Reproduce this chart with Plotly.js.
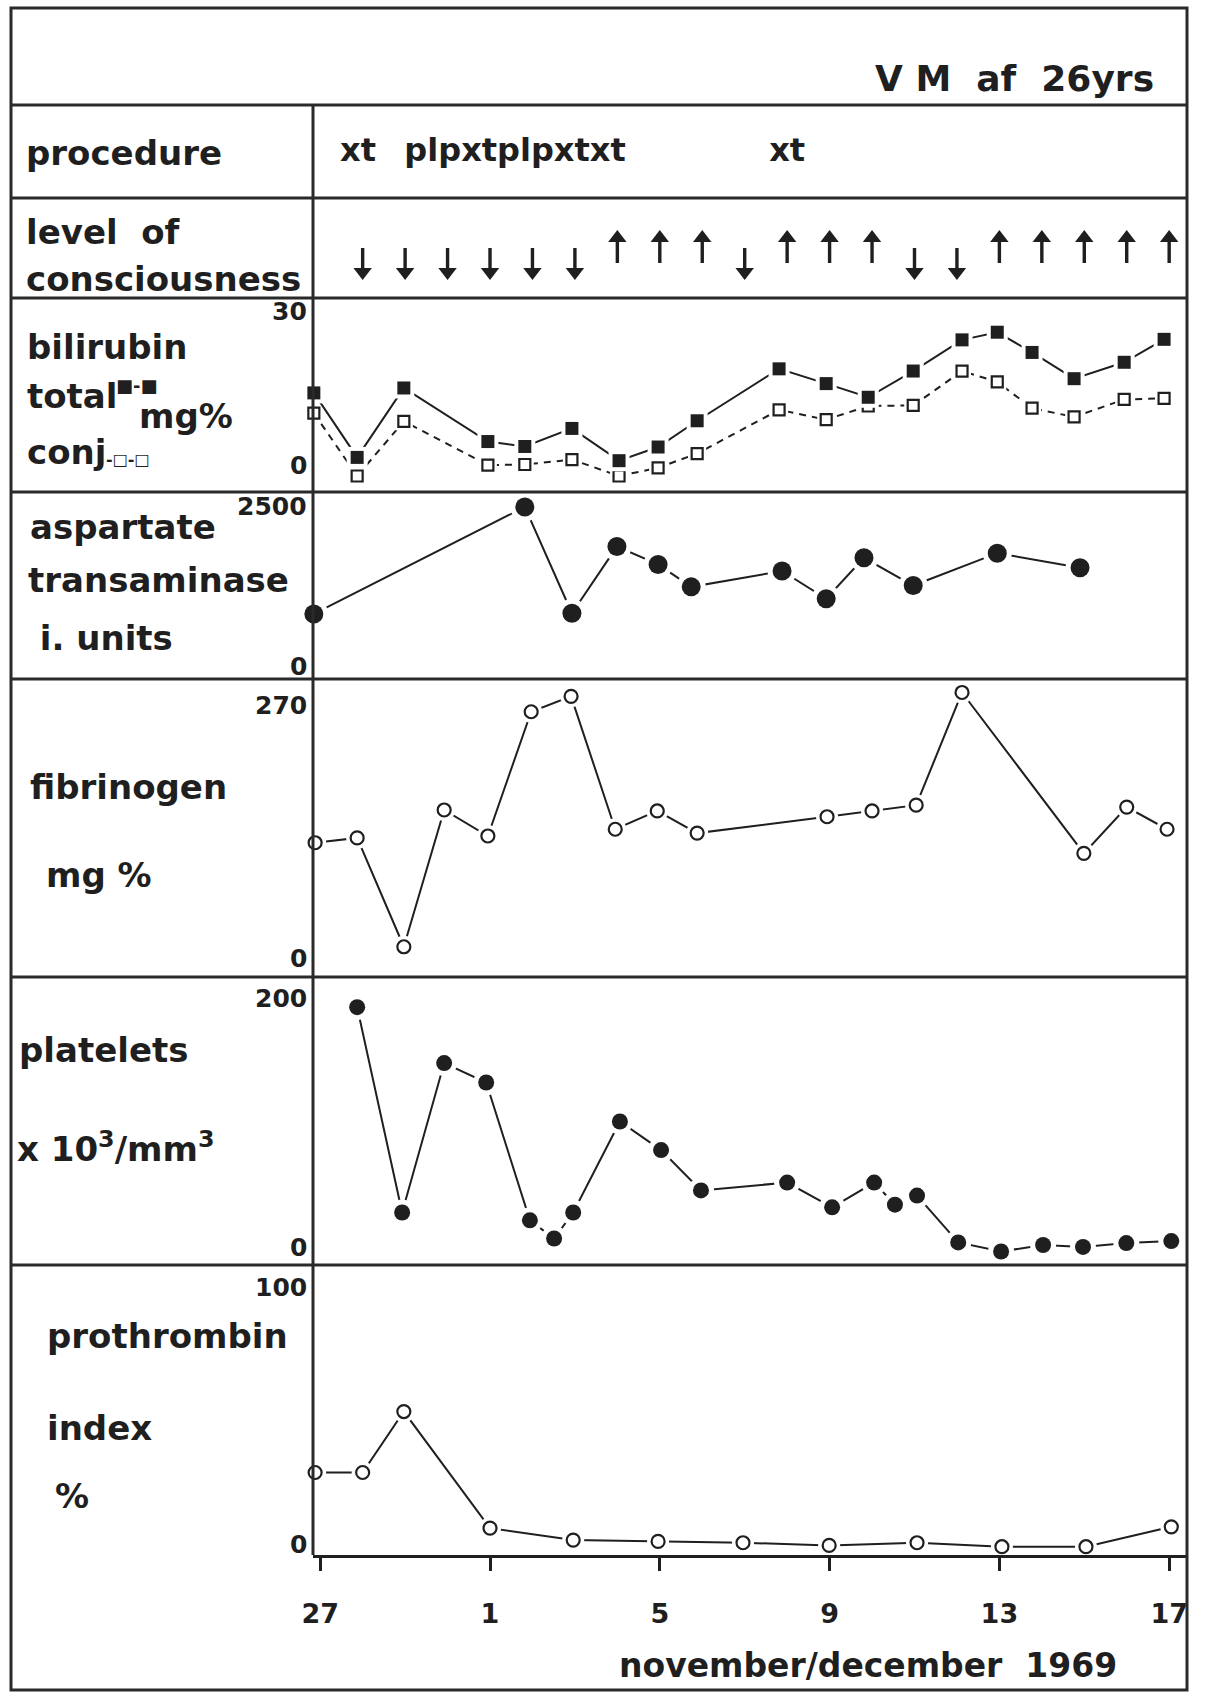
<!DOCTYPE html>
<html>
<head>
<meta charset="utf-8">
<script src="https://cdn.plot.ly/plotly-3.0.1.min.js"></script>
<style>
  html, body { margin: 0; padding: 0; background: #ffffff; }
  #chart { width: 1210px; height: 1695px; }
</style>
</head>
<body>
<div id="chart"></div>
<script>
// ---------------- DATA (x = days after 27 November 1969) ----------------
const xTickDays   = [0, 4, 8, 12, 16, 20];
const xTickLabels = ['27', '1', '5', '9', '13', '17'];

const procedureDays   = [0.89, 4.59, 11.0];
const procedureLabels = ['xt', 'plpxtplpxtxt', 'xt'];

const consciousnessDays = [1, 2, 3, 4, 5, 6, 7, 8, 9, 10, 11, 12, 13, 14, 15, 16, 17, 18, 19, 20];
const consciousnessDir  = ['down', 'down', 'down', 'down', 'down', 'down', 'up', 'up', 'up', 'down',
                           'up', 'up', 'up', 'down', 'down', 'up', 'up', 'up', 'up', 'up'];

const bilirubinDays  = [-0.15, 0.87, 1.97, 3.95, 4.82, 5.93, 7.04, 7.96, 8.88, 10.81, 11.92, 12.91, 13.97, 15.12, 15.95, 16.77, 17.76, 18.94, 19.88];
const bilirubinTotal = [15.2, 3.4, 16.1, 6.3, 5.4, 8.7, 2.8, 5.3, 10.1, 19.6, 16.9, 14.4, 19.2, 24.9, 26.3, 22.6, 17.8, 20.8, 25.0];
const bilirubinConj  = [11.5, 0.0, 10.0, 2.0, 2.1, 3.0, 0.0, 1.5, 4.1, 12.1, 10.3, 12.8, 12.9, 19.2, 17.2, 12.4, 10.8, 14.0, 14.2];
const bilirubinTicks = [0, 30];

const astDays   = [-0.15, 4.82, 5.93, 6.99, 7.96, 8.74, 10.88, 11.92, 12.81, 13.97, 15.95, 17.90];
const astValues = [880, 2500, 890, 1900, 1630, 1290, 1530, 1110, 1730, 1310, 1800, 1580];
const astTicks  = [0, 2500];

const fibrinogenDays   = [-0.12, 0.87, 1.97, 2.92, 3.95, 4.97, 5.91, 6.95, 7.94, 8.88, 11.94, 13.0, 14.04, 15.12, 17.99, 19.0, 19.95];
const fibrinogenValues = [128, 133, 20, 162, 135, 264, 280, 142, 161, 138, 155, 161, 167, 284, 117, 165, 142];
const fibrinogenTicks  = [0, 270];

const plateletDays   = [0.87, 1.93, 2.92, 3.91, 4.94, 5.51, 5.96, 7.06, 8.03, 8.97, 11.0, 12.06, 13.05, 13.54, 14.06, 15.03, 16.04, 17.03, 17.97, 18.99, 20.05];
const plateletValues = [193, 35, 150, 135, 29, 15, 35, 105, 83, 52, 58, 39, 58, 41, 48, 12, 5, 10, 8.5, 11.5, 13];
const plateletTicks  = [0, 200];

const prothrombinDays   = [-0.12, 1.0, 1.97, 4.0, 5.96, 7.96, 9.96, 11.99, 14.06, 16.06, 18.04, 20.05];
const prothrombinValues = [30, 30, 53, 9, 4.5, 4, 3.5, 2.5, 3.5, 2, 2, 9.5];
const prothrombinTicks  = [0, 100];

// ---------------- STYLE / LAYOUT ----------------
const W = 1210, H = 1695;
const INK = '#1f1f1f';
const FONT = 'DejaVu Sans, Liberation Sans, sans-serif';
const px = p => p / W;
const py = p => 1 - p / H;

// row boundaries (pixels from top)
const rowTop = [8, 105, 198, 298, 492, 679, 977, 1265, 1555, 1690];
const frameLeft = 11, frameRight = 1187, divider = 313;

function dom(top, bottom) { return [py(bottom), py(top)]; }

const traces = [];

function series(days, vals, yaxis, opt) {
  traces.push({
    x: days, y: vals, yaxis: yaxis, mode: 'lines', hoverinfo: 'skip',
    line: { color: INK, width: opt.lineWidth || 2, dash: opt.dash || 'solid' }
  });
  traces.push({
    x: days, y: vals, yaxis: yaxis, mode: 'markers', cliponaxis: false, hoverinfo: 'skip',
    marker: { symbol: opt.symbol, size: opt.size + opt.halo, color: '#ffffff', line: { width: 0 } }
  });
  traces.push({
    x: days, y: vals, yaxis: yaxis, mode: 'markers', cliponaxis: false,
    marker: opt.open
      ? { symbol: opt.symbol, size: opt.size, color: '#ffffff', line: { color: INK, width: 2.2 } }
      : { symbol: opt.symbol, size: opt.size, color: INK, line: { width: 0 } }
  });
}

// procedure row
traces.push({
  x: procedureDays, y: procedureDays.map(() => 0.48), yaxis: 'y', mode: 'text',
  text: procedureLabels, textposition: 'middle center', cliponaxis: false,
  textfont: { family: FONT, size: 32, weight: 700, color: INK }
});

// level of consciousness arrows: shafts + triangular heads
const shaftX = [], shaftY = [];
consciousnessDays.forEach((d, i) => {
  const up = consciousnessDir[i] === 'up';
  shaftX.push(d, d, null);
  shaftY.push(up ? 0.35 : 0.50, up ? 0.57 : 0.29, null);
});
traces.push({ x: shaftX, y: shaftY, yaxis: 'y2', mode: 'lines', hoverinfo: 'skip',
  line: { color: INK, width: 3.4 } });
traces.push({
  x: consciousnessDays, y: consciousnessDir.map(d => d === 'up' ? 0.60 : 0.26), yaxis: 'y2',
  mode: 'markers', cliponaxis: false,
  marker: { symbol: consciousnessDir.map(d => d === 'up' ? 'triangle-up' : 'triangle-down'),
            size: 16, color: INK, line: { width: 0 } }
});

series(bilirubinDays, bilirubinConj, 'y3', { symbol: 'square', size: 11, halo: 7, open: true, dash: '7px,6px' });
series(bilirubinDays, bilirubinTotal, 'y3', { symbol: 'square', size: 13, halo: 8, open: false });
series(astDays, astValues, 'y4', { symbol: 'circle', size: 19, halo: 10, open: false });
series(fibrinogenDays, fibrinogenValues, 'y5', { symbol: 'circle', size: 13, halo: 9, open: true });
series(plateletDays, plateletValues, 'y6', { symbol: 'circle', size: 16, halo: 10, open: false });
series(prothrombinDays, prothrombinValues, 'y7', { symbol: 'circle', size: 13, halo: 9, open: true });

function yax(top, bottom, range) {
  return { domain: dom(top, bottom), range: range, anchor: 'x', showticklabels: false,
           showgrid: false, zeroline: false, ticks: '', showline: false, fixedrange: true };
}

const layout = {
  width: W, height: H,
  margin: { l: 0, r: 0, t: 0, b: 0, pad: 0 },
  paper_bgcolor: '#ffffff', plot_bgcolor: 'rgba(0,0,0,0)',
  showlegend: false,
  font: { family: FONT, color: INK },
  xaxis: {
    domain: [px(divider), px(frameRight)], range: [-0.17, 20.42], anchor: 'y7',
    tickvals: xTickDays, ticktext: xTickLabels, ticks: 'outside', ticklen: 13, tickwidth: 3,
    tickcolor: INK, showline: true, linewidth: 3, linecolor: INK,
    tickfont: { family: FONT, size: 27, weight: 700, color: INK }, ticklabelstandoff: 20,
    showgrid: false, zeroline: false, fixedrange: true
  },
  yaxis:  yax(rowTop[1], rowTop[2], [0, 1]),
  yaxis2: yax(rowTop[2], rowTop[3], [0, 1]),
  yaxis3: yax(rowTop[3], rowTop[4], [-2.93, 32.56]),
  yaxis4: yax(rowTop[4], rowTop[5], [-106, 2727]),
  yaxis5: yax(rowTop[5], rowTop[6], [-11.4, 298]),
  yaxis6: yax(rowTop[6], rowTop[7], [-5.4, 216.2]),
  yaxis7: yax(rowTop[7], rowTop[8], [-1.13, 108.3]),
  shapes: [],
  annotations: []
};

// frame
const frameLine = { color: '#2a2a2a', width: 3 };
layout.shapes.push({ type: 'rect', xref: 'paper', yref: 'paper', x0: px(frameLeft), x1: px(frameRight),
  y0: py(rowTop[9]), y1: py(rowTop[0]), line: frameLine, layer: 'above' });
for (let i = 1; i <= 7; i++) {
  layout.shapes.push({ type: 'line', xref: 'paper', yref: 'paper', x0: px(frameLeft), x1: px(frameRight),
    y0: py(rowTop[i]), y1: py(rowTop[i]), line: frameLine, layer: 'above' });
}
layout.shapes.push({ type: 'line', xref: 'paper', yref: 'paper', x0: px(divider), x1: px(divider),
  y0: py(rowTop[8]), y1: py(rowTop[1]), line: frameLine, layer: 'above' });

// value labels of each panel; the "0" label is written just above its level
const panelTicks = [['y3', bilirubinTicks, 10], ['y4', astTicks, 6], ['y5', fibrinogenTicks, 8],
                    ['y6', plateletTicks, 10], ['y7', prothrombinTicks, 8]];
panelTicks.forEach(([ax, ticks, zeroShift]) => {
  ticks.forEach((v, i) => {
    layout.annotations.push({
      xref: 'paper', yref: ax, x: px(divider - 4), y: v, xanchor: 'right',
      yanchor: 'middle', yshift: i === 0 ? zeroShift : 0, showarrow: false, text: String(v),
      font: { family: FONT, size: 25, weight: 700, color: INK }
    });
  });
});

// left column captions
const nb = '\u00a0';
const captions = [
  ['procedure', 24, 153],
  ['level' + nb + nb + 'of', 24, 232],
  ['consciousness', 24, 279],
  ['bilirubin', 25, 347],
  ['total', 25, 396],
  ['conj', 25, 452],
  ['mg%', 137, 416],
  ['aspartate', 28, 527],
  ['transaminase', 26, 580],
  [nb + 'i.' + nb + 'units', 26, 638],
  ['fibrinogen', 28, 787],
  ['mg' + nb + '%', 44, 875],
  ['platelets', 17, 1050],
  ['x' + nb + '10<sup>3</sup>/mm<sup>3</sup>', 15, 1147],
  ['prothrombin', 45, 1336],
  ['index', 45, 1428],
  ['%', 53, 1496]
];
captions.forEach(([t, x, y]) => {
  layout.annotations.push({ xref: 'paper', yref: 'paper', x: px(x), y: py(y), xanchor: 'left',
    yanchor: 'middle', showarrow: false, text: t,
    font: { family: FONT, size: 34, weight: 700, color: INK } });
});
// bilirubin key symbols
layout.annotations.push({ xref: 'paper', yref: 'paper', x: px(114), y: py(386), xanchor: 'left',
  yanchor: 'middle', showarrow: false, text: '\u25A0-\u25A0', font: { family: FONT, size: 18, weight: 700, color: INK } });
layout.annotations.push({ xref: 'paper', yref: 'paper', x: px(104), y: py(459), xanchor: 'left',
  yanchor: 'middle', showarrow: false, text: '-\u25A1-\u25A1', font: { family: FONT, size: 16, weight: 700, color: INK } });

// title and x caption
layout.annotations.push({ xref: 'paper', yref: 'paper', x: px(1156), y: py(78), xanchor: 'right',
  yanchor: 'middle', showarrow: false, text: 'V' + nb + 'M' + nb + nb + 'af' + nb + nb + '26yrs',
  font: { family: FONT, size: 36, weight: 700, color: INK } });
layout.annotations.push({ xref: 'paper', yref: 'paper', x: px(868), y: py(1665), xanchor: 'center',
  yanchor: 'middle', showarrow: false, text: 'november/december' + nb + nb + '1969',
  font: { family: FONT, size: 33, weight: 700, color: INK } });

Plotly.newPlot('chart', traces, layout, { staticPlot: true, displayModeBar: false });
</script>
</body>
</html>
